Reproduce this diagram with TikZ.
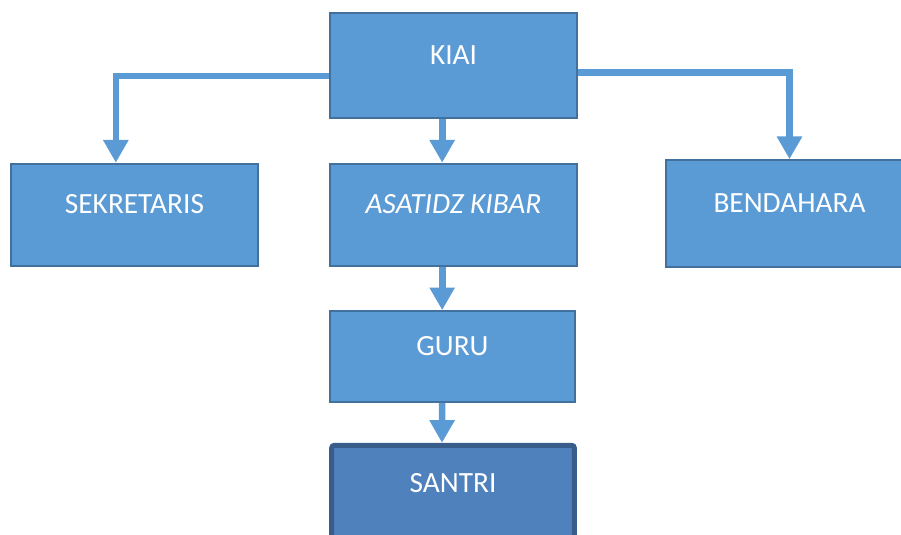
\documentclass[tikz,border=0pt]{standalone}
\usepackage{fontspec}
\setmainfont{Carlito}
\usetikzlibrary{arrows.meta}
\definecolor{boxblue}{HTML}{5B9BD5}
\definecolor{boxedge}{HTML}{41719C}
\definecolor{darkblue}{HTML}{4F81BD}
\definecolor{darkedge}{HTML}{385D8A}
\tikzset{>={Triangle[width=18pt,length=17pt]}}

\begin{document}
\begin{tikzpicture}[x=0.75pt,y=-0.75pt,font=\fontsize{22}{26}\selectfont]
\tikzstyle{b}=[rectangle,draw=boxedge,line width=1.5pt,fill=boxblue,text=white,minimum width=185pt,text height=14pt,text depth=16pt,inner sep=0]
\tikzstyle{c}=[draw=boxblue,line width=5pt]
\useasboundingbox (0,0) rectangle (901,535);

    \node[b,minimum height=78.75pt] (kiai) at (453.5,65.5){KIAI};
    \node[b,minimum height=77pt] (sek) at (134.5,215){SEKRETARIS};
    \node[b,minimum height=77pt] (asa) at (453.5,215){\textit{ASATIDZ KIBAR}};
    \node[b,minimum height=80pt] (ben) at (789.5,213.5){BENDAHARA};
    \node[b,minimum height=68pt,minimum width=184pt] (guru) at (452.5,356.5){GURU};
    \node[b,draw=darkedge,fill=darkblue,line width=3.75pt,rounded corners=2pt,minimum width=182pt,minimum height=76pt,text height=11pt,text depth=17pt] (santri) at (453,496){SANTRI};

    \draw[c,->] ([yshift=-8pt]kiai.west) -| ([xshift=-14pt]sek.north);
    \draw[c,->] ([yshift=-5.5pt]kiai.east) -| (ben.north);
    \draw[c,->] ([xshift=-8.5pt]kiai.south) -- ([xshift=-8.5pt]asa.north);
    \draw[c,->] ([xshift=-8.5pt]asa.south) -- ([xshift=-7.75pt]guru.north);
    \draw[c,->] ([xshift=-7.75pt]guru.south) -- ([xshift=-8.25pt]santri.north);

\end{tikzpicture}
\end{document}
